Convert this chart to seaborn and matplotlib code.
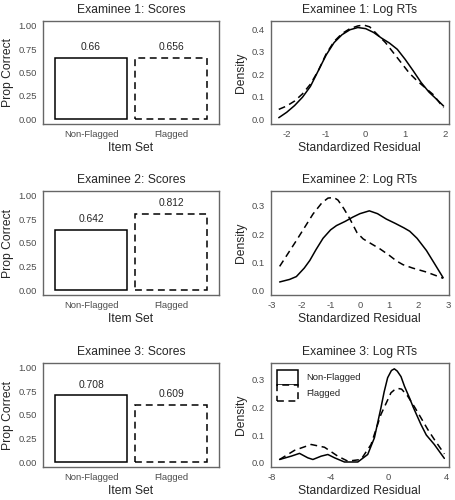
import matplotlib
matplotlib.use("Agg")
import matplotlib.pyplot as plt
from matplotlib.patches import Patch
import pandas as pd
import seaborn as sns

item_sets = ["Non-Flagged", "Flagged"]
scores_1 = [0.66, 0.656]
scores_2 = [0.642, 0.812]
scores_3 = [0.708, 0.609]
score_labels_1 = ["0.66", "0.656"]
score_labels_2 = ["0.642", "0.812"]
score_labels_3 = ["0.708", "0.609"]

# density curves (standardized residual, density)
e1_nf_x = [-2.2, -2.0, -1.8, -1.6, -1.4, -1.2, -1.0, -0.8, -0.6, -0.4, -0.2, 0.0, 0.2, 0.4, 0.6,
           0.8, 1.0, 1.2, 1.4, 1.6, 1.8, 1.97]
e1_nf_y = [0.006, 0.03, 0.06, 0.097, 0.145, 0.215, 0.285, 0.34, 0.375, 0.397, 0.407, 0.402, 0.385,
           0.36, 0.338, 0.31, 0.265, 0.215, 0.163, 0.12, 0.087, 0.058]
e1_f_x = [-2.2, -2.0, -1.8, -1.6, -1.4, -1.2, -1.0, -0.8, -0.6, -0.4, -0.2, -0.05, 0.1, 0.3, 0.5,
          0.7, 0.9, 1.1, 1.3, 1.5, 1.7, 1.97]
e1_f_y = [0.043, 0.058, 0.08, 0.112, 0.155, 0.215, 0.29, 0.345, 0.38, 0.402, 0.414, 0.418, 0.41,
          0.375, 0.34, 0.295, 0.25, 0.205, 0.17, 0.14, 0.11, 0.05]

e2_nf_x = [-2.74, -2.4, -2.17, -1.9, -1.71, -1.5, -1.26, -1.0, -0.8, -0.5, -0.24, 0.0, 0.32, 0.6,
           0.9, 1.2, 1.5, 1.7, 1.95, 2.27, 2.55, 2.84]
e2_nf_y = [0.031, 0.04, 0.05, 0.08, 0.107, 0.145, 0.185, 0.215, 0.23, 0.245, 0.26, 0.272, 0.282,
           0.272, 0.253, 0.238, 0.222, 0.21, 0.185, 0.142, 0.095, 0.046]
e2_f_x = [-2.74, -2.17, -1.6, -1.3, -1.09, -0.89, -0.75, -0.55, -0.35, -0.1, 0.11, 0.4, 0.68, 1.0,
          1.25, 1.47, 1.8, 2.27, 2.84]
e2_f_y = [0.086, 0.177, 0.271, 0.31, 0.327, 0.329, 0.32, 0.29, 0.255, 0.205, 0.183, 0.165, 0.148,
          0.125, 0.105, 0.092, 0.08, 0.066, 0.044]

e3_nf_x = [-7.49, -6.69, -6.12, -5.55, -5.2, -4.63, -4.17, -3.71, -3.03, -2.11, -1.43, -0.97, -0.52,
           -0.3, -0.06, 0.2, 0.4, 0.6, 0.86, 1.1, 1.44, 1.7, 2.23, 2.6, 3.15, 3.84]
e3_nf_y = [0.012, 0.024, 0.034, 0.018, 0.012, 0.024, 0.030, 0.018, 0.003, 0.003, 0.030, 0.09, 0.198,
           0.255, 0.306, 0.332, 0.338, 0.33, 0.31, 0.275, 0.234, 0.2, 0.138, 0.1, 0.066, 0.016]
e3_f_x = [-7.49, -6.46, -5.32, -4.4, -3.49, -2.8, -1.89, -1.2, -0.52, -0.2, 0.17, 0.4, 0.6, 0.9,
          1.32, 1.8, 2.23, 2.7, 3.15, 3.84]
e3_f_y = [0.012, 0.045, 0.066, 0.056, 0.024, 0.006, 0.012, 0.066, 0.174, 0.21, 0.252, 0.262, 0.268,
          0.265, 0.24, 0.2, 0.162, 0.12, 0.084, 0.032]

sns.set_style("white")
plt.rcParams["font.family"] = ["Liberation Sans", "DejaVu Sans"]

fig = plt.figure(figsize=(4.56, 5.0), dpi=100)
rows = [(0.752, 0.206), (0.410, 0.208), (0.066, 0.208)]
frame_col = "#666666"
tick_col = "#4d4d4d"
dashed = (0, (4.5, 3))


def style_axes(ax):
    for s in ax.spines.values():
        s.set_color(frame_col)
        s.set_linewidth(1.0)
    ax.tick_params(axis="both", direction="out", length=3, width=0.8, color=tick_col,
                   labelcolor=tick_col, labelsize=6.8, pad=1.5)


def score_panel(rect, scores, labels, title):
    ax = fig.add_axes(rect)
    df = pd.DataFrame({"Item Set": item_sets, "Prop Correct": scores})
    sns.barplot(data=df, x="Item Set", y="Prop Correct", ax=ax, color="white",
                edgecolor="black", linewidth=1.1, width=0.9, saturation=1)
    for p, ls in zip(ax.patches, ["-", dashed]):
        p.set_linestyle(ls)
        p.set_facecolor("white")
    for i, (v, t) in enumerate(zip(scores, labels)):
        ax.text(i, v + 0.06, t, ha="center", va="bottom", fontsize=7.4)
    ax.set_xlim(-0.6, 1.6)
    ax.set_ylim(-0.05, 1.05)
    ax.set_yticks([0, 0.25, 0.5, 0.75, 1.0])
    ax.set_yticklabels(["0.00", "0.25", "0.50", "0.75", "1.00"])
    ax.set_title(title, fontsize=8.7, pad=6)
    ax.set_xlabel("Item Set", fontsize=8.7, labelpad=2)
    ax.set_ylabel("Prop Correct", fontsize=8.7, labelpad=3)
    style_axes(ax)
    return ax


def rt_panel(rect, nfx, nfy, fx, fy, title, xlim, ylim, xticks, yticks):
    ax = fig.add_axes(rect)
    sns.lineplot(x=nfx, y=nfy, ax=ax, color="black", linewidth=1.1, sort=False)
    sns.lineplot(x=fx, y=fy, ax=ax, color="black", linewidth=1.1, sort=False,
                 linestyle=dashed)
    ax.set_xlim(*xlim)
    ax.set_ylim(*ylim)
    ax.set_xticks(xticks)
    ax.set_xticklabels([str(t) for t in xticks])
    ax.set_yticks(yticks)
    ax.set_yticklabels(["%.1f" % t for t in yticks])
    ax.set_title(title, fontsize=8.7, pad=6)
    ax.set_xlabel("Standardized Residual", fontsize=8.7, labelpad=2)
    ax.set_ylabel("Density", fontsize=8.7, labelpad=3)
    style_axes(ax)
    return ax


lx, lw = 0.0943, 0.386
rx, rw = 0.594, 0.390

score_panel([lx, rows[0][0], lw, rows[0][1]], scores_1, score_labels_1, "Examinee 1: Scores")
score_panel([lx, rows[1][0], lw, rows[1][1]], scores_2, score_labels_2, "Examinee 2: Scores")
score_panel([lx, rows[2][0], lw, rows[2][1]], scores_3, score_labels_3, "Examinee 3: Scores")

rt_panel([rx, rows[0][0], rw, rows[0][1]], e1_nf_x, e1_nf_y, e1_f_x, e1_f_y,
         "Examinee 1: Log RTs", (-2.4, 2.1), (-0.022, 0.436), [-2, -1, 0, 1, 2], [0, 0.1, 0.2, 0.3, 0.4])
rt_panel([rx, rows[1][0], rw, rows[1][1]], e2_nf_x, e2_nf_y, e2_f_x, e2_f_y,
         "Examinee 2: Log RTs", (-3.04, 3.03), (-0.015, 0.352), [-3, -2, -1, 0, 1, 2, 3], [0, 0.1, 0.2, 0.3])
ax3 = rt_panel([rx, rows[2][0], rw, rows[2][1]], e3_nf_x, e3_nf_y, e3_f_x, e3_f_y,
               "Examinee 3: Log RTs", (-8.09, 4.14), (-0.015, 0.359), [-8, -4, 0, 4], [0, 0.1, 0.2, 0.3])

handles = [Patch(facecolor="white", edgecolor="black", linewidth=1.1, linestyle="-"),
           Patch(facecolor="white", edgecolor="black", linewidth=1.1, linestyle=dashed)]
ax3.legend(handles, item_sets, loc="upper left", frameon=False, fontsize=6.8,
           handlelength=2.2, handleheight=2.2, labelspacing=0.0, handletextpad=0.8,
           borderaxespad=0.2, borderpad=0.5)

fig.savefig("out.png", dpi=100)
